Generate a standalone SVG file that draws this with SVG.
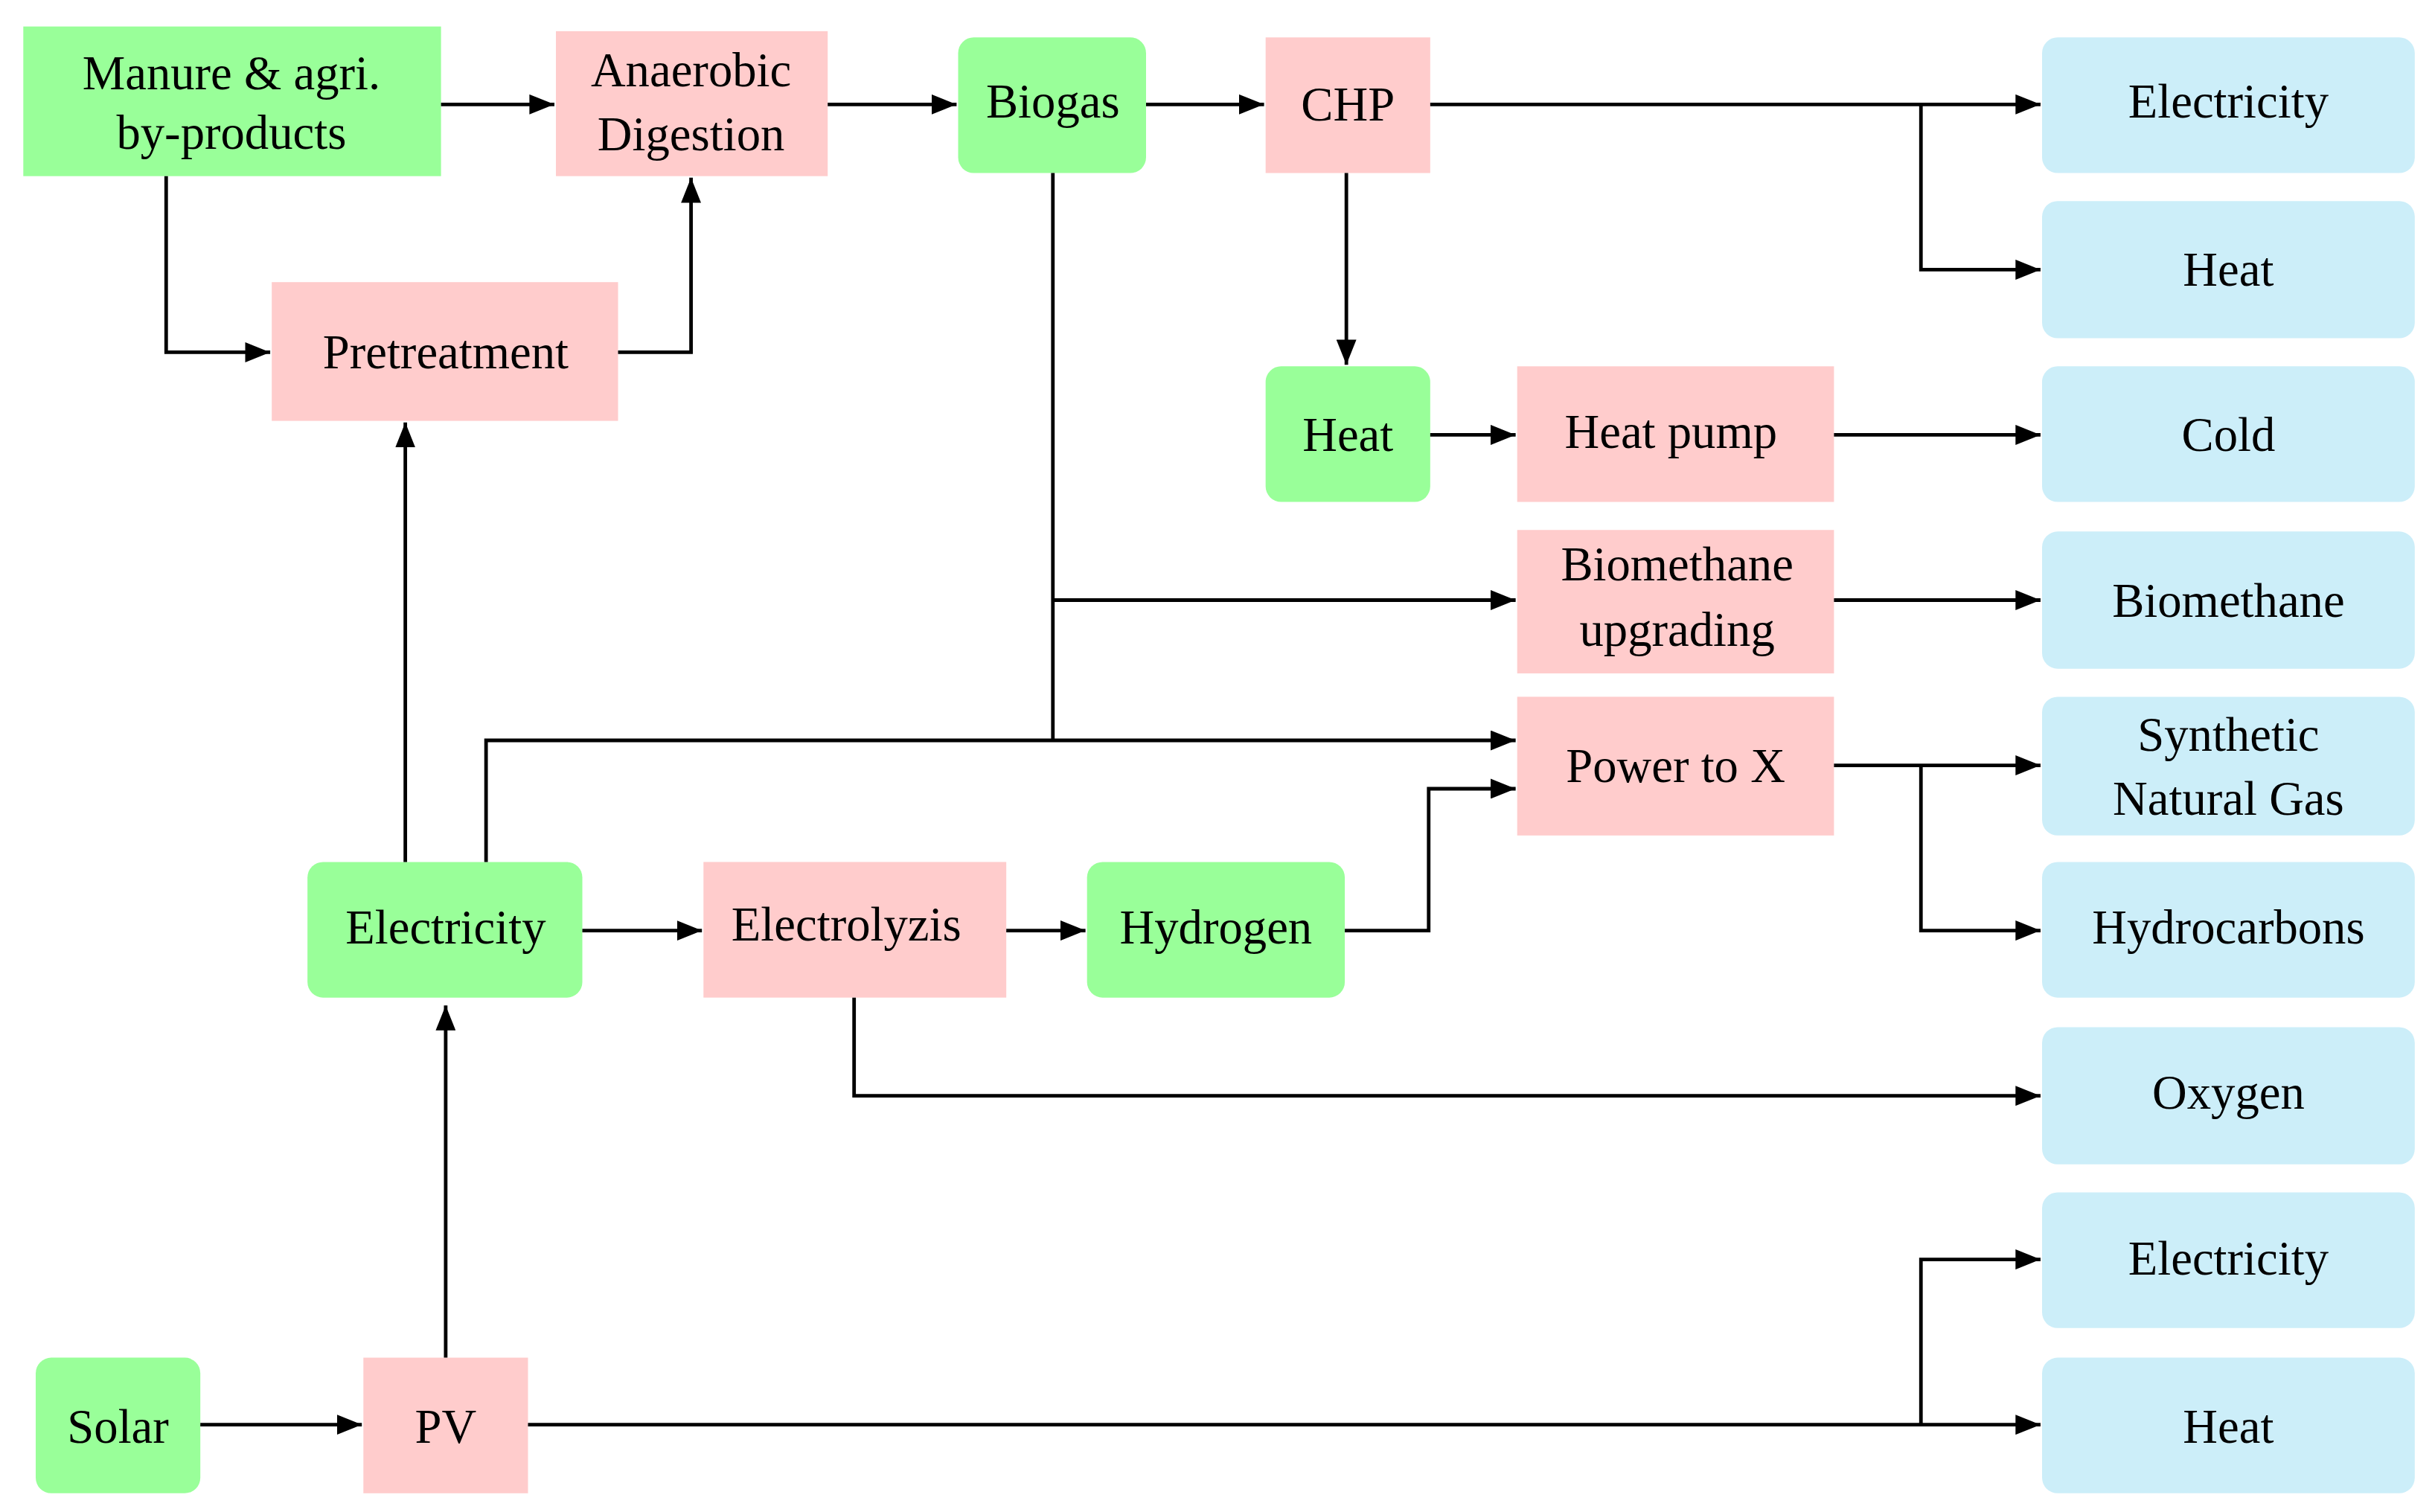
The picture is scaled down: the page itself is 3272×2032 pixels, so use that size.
<svg xmlns="http://www.w3.org/2000/svg" width="3272" height="2032" viewBox="0 0 3272 2032">
<defs>
<style>
.g{fill:#99FF99}.p{fill:#FFCCCC}.b{fill:#CCEEF9}
text{font-family:"Liberation Serif","DejaVu Serif",serif;font-size:31px;fill:#000;text-anchor:middle;dominant-baseline:central}
.c path{fill:none;stroke:#000;stroke-width:2.3;marker-end:url(#a)}
.c path.n{marker-end:none}
</style>
<marker id="a" viewBox="0 0 10 8" markerWidth="7" markerHeight="5.6" refX="10" refY="4" orient="auto"><path d="M0,0L10,4L0,8z" fill="#000"/></marker>
</defs>
<rect width="3272" height="2032" fill="#fff"/>
<g transform="scale(2.0867,2.0948)">
<g id="manure"><rect class="g" x="15" y="17" width="269" height="96"/><text x="149" y="47">Manure &amp; agri.</text><text x="149" y="85">by-products</text></g>
<g id="ad"><rect class="p" x="358" y="20" width="175" height="93"/><text x="445" y="45">Anaerobic</text><text x="445" y="86">Digestion</text></g>
<g id="biogas"><rect class="g" x="617" y="24" width="121" height="87" rx="10"/><text x="678" y="65">Biogas</text></g>
<g id="chp"><rect class="p" x="815" y="24" width="106" height="87"/><text x="868" y="67">CHP</text></g>
<g id="out-elec1"><rect class="b" x="1315" y="24" width="240" height="87" rx="10"/><text x="1435" y="65">Electricity</text></g>
<g id="out-heat1"><rect class="b" x="1315" y="129" width="240" height="88" rx="10"/><text x="1435" y="173">Heat</text></g>
<g id="pretreat"><rect class="p" x="175" y="181" width="223" height="89"/><text x="287" y="226">Pretreatment</text></g>
<g id="heat"><rect class="g" x="815" y="235" width="106" height="87" rx="10"/><text x="868" y="279">Heat</text></g>
<g id="heatpump"><rect class="p" x="977" y="235" width="204" height="87"/><text x="1076" y="277">Heat pump</text></g>
<g id="cold"><rect class="b" x="1315" y="235" width="240" height="87" rx="10"/><text x="1435" y="279">Cold</text></g>
<g id="bmu"><rect class="p" x="977" y="340" width="204" height="92"/><text x="1080" y="362">Biomethane</text><text x="1080" y="404">upgrading</text></g>
<g id="biomethane"><rect class="b" x="1315" y="341" width="240" height="88" rx="10"/><text x="1435" y="385">Biomethane</text></g>
<g id="ptx"><rect class="p" x="977" y="447" width="204" height="89"/><text x="1079" y="491">Power to X</text></g>
<g id="sng"><rect class="b" x="1315" y="447" width="240" height="89" rx="10"/><text x="1435" y="471">Synthetic</text><text x="1435" y="512">Natural Gas</text></g>
<g id="elec"><rect class="g" x="198" y="553" width="177" height="87" rx="10"/><text x="287" y="595">Electricity</text></g>
<g id="electrolyzis"><rect class="p" x="453" y="553" width="195" height="87"/><text x="545" y="593">Electrolyzis</text></g>
<g id="hydrogen"><rect class="g" x="700" y="553" width="166" height="87" rx="10"/><text x="783" y="595">Hydrogen</text></g>
<g id="hydrocarbons"><rect class="b" x="1315" y="553" width="240" height="87" rx="10"/><text x="1435" y="595">Hydrocarbons</text></g>
<g id="oxygen"><rect class="b" x="1315" y="659" width="240" height="88" rx="10"/><text x="1435" y="701">Oxygen</text></g>
<g id="out-elec2"><rect class="b" x="1315" y="765" width="240" height="87" rx="10"/><text x="1435" y="807">Electricity</text></g>
<g id="out-heat2"><rect class="b" x="1315" y="871" width="240" height="87" rx="10"/><text x="1435" y="915">Heat</text></g>
<g id="solar"><rect class="g" x="23" y="871" width="106" height="87" rx="10"/><text x="76" y="915">Solar</text></g>
<g id="pv"><rect class="p" x="234" y="871" width="106" height="87"/><text x="287" y="915">PV</text></g>
<g id="connectors" class="c">
<path d="M284,67H357"/>
<path d="M107,113V226H174"/>
<path d="M398,226H445V114"/>
<path d="M533,67H616"/>
<path d="M738,67H814"/>
<path d="M921,67H1314"/>
<path d="M1237,67V173H1314"/>
<path d="M867,111V234"/>
<path d="M921,279H976"/>
<path d="M1181,279H1314"/>
<path class="n" d="M678,111V475"/>
<path d="M678,385H976"/>
<path d="M1181,385H1314"/>
<path d="M313,553V475H976"/>
<path d="M866,597H920V506H976"/>
<path d="M1181,491H1314"/>
<path d="M1237,491V597H1314"/>
<path d="M261,553V271"/>
<path d="M375,597H452"/>
<path d="M648,597H699"/>
<path d="M550,640V703H1314"/>
<path d="M129,914H233"/>
<path d="M287,871V645"/>
<path d="M340,914H1314"/>
<path d="M1237,914V808H1314"/>
</g>
</g>
</svg>
